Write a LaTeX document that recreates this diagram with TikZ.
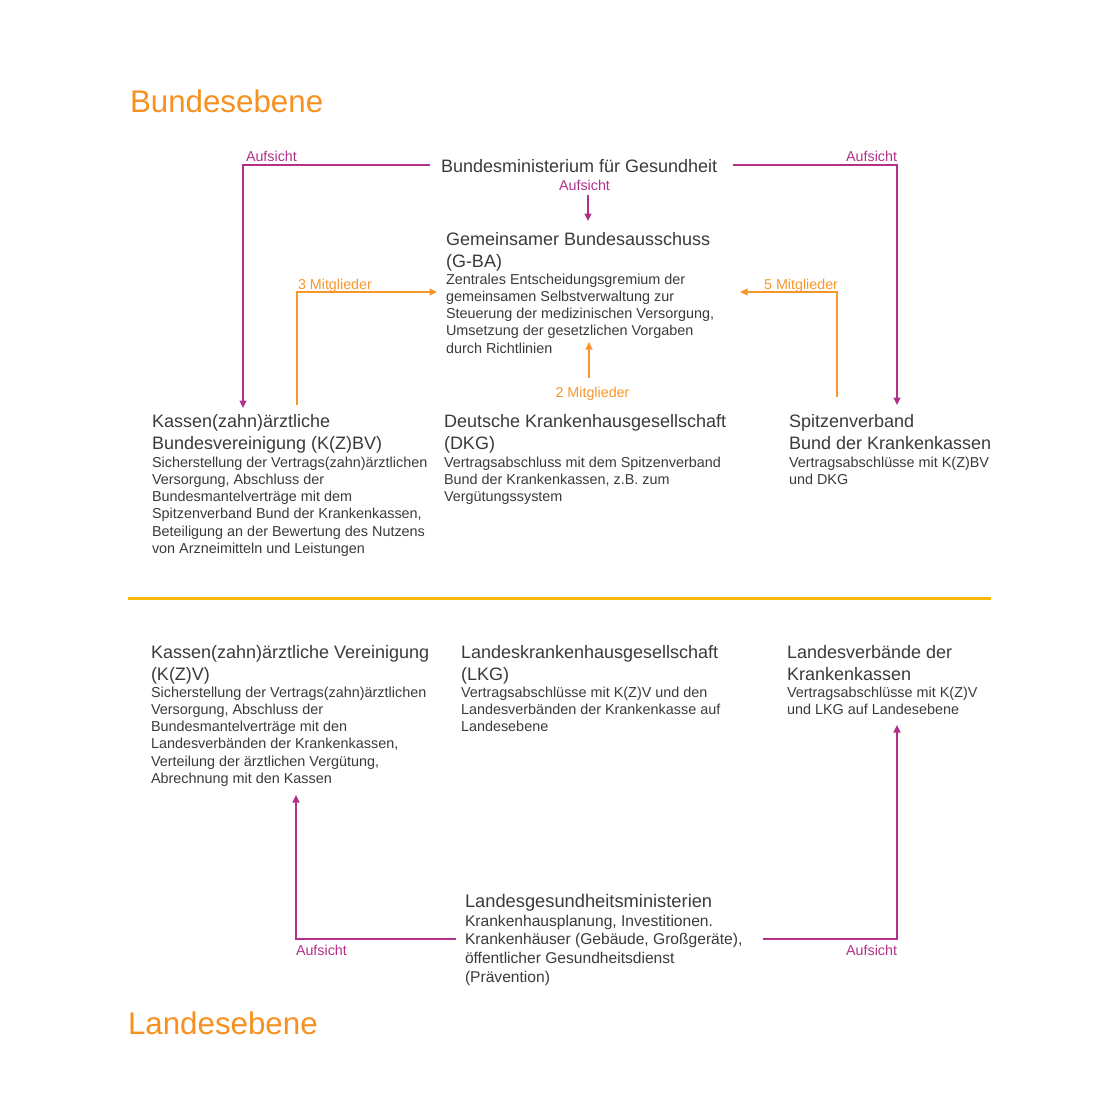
\documentclass[tikz,border=0pt]{standalone}
\usepackage{fontspec}
\setmainfont{Liberation Sans}
\usepackage{xcolor}
\definecolor{textcolor}{HTML}{3A3A3A}
\definecolor{aufcolor}{HTML}{B2308A}
\definecolor{mitcolor}{HTML}{F7962A}
\definecolor{titlecolor}{HTML}{F7901E}
\definecolor{sepcolor}{HTML}{FFB800}
\usetikzlibrary{arrows.meta, positioning, calc}

\begin{document}
\begin{tikzpicture}
        [
          x=1pt, y=-1pt,
          >={Triangle[length=7.5pt,width=7pt]},
          every node/.style={inner sep=0pt, outer sep=0pt, align=left, text=textcolor},
          hd/.style={anchor=base west, font=\fontsize{18}{22}\selectfont},
          bd/.style={anchor=base west, font=\fontsize{14.4}{17.3}\selectfont},
          lbl/.style={font=\fontsize{14.3}{17}\selectfont},
          ebene/.style={anchor=base west, text=titlecolor, font=\fontsize{31.3}{36}\selectfont},
          auf/.style={->, draw=aufcolor, line width=1.3pt},
          mit/.style={->, draw=mitcolor, line width=1.3pt}
        ]
        \useasboundingbox (0,0) rectangle (1110,1109);

        \node[ebene] (bund) at (130,112) {Bundesebene};
        \node[ebene] (land) at (128,1034) {Landesebene};
        \draw[sepcolor, line width=3pt] (128,598) -- (991,598);

        \node[hd] (bmg) at (441,172) {Bundesministerium für Gesundheit};
        \node[hd] (gba) at (446,267) {Gemeinsamer Bundesausschuss\\(G-BA)};
        \node[bd] (gbaTxt) at (446,353.2) {Zentrales Entscheidungsgremium der\\gemeinsamen Selbstverwaltung zur\\Steuerung der medizinischen Versorgung,\\Umsetzung der gesetzlichen Vorgaben\\durch Richtlinien};
        \coordinate (gbaTop) at ([xshift=142pt,yshift=46pt]gba.base west);
        \node[lbl, anchor=base, text=aufcolor] (aufM) at ([xshift=-3.5pt,yshift=31pt]gbaTop) {Aufsicht};

        \node[hd] (kzbv) at (152,449) {Kassen(zahn)ärztliche\\Bundesvereinigung (K(Z)BV)};
        \node[bd] (kzbvTxt) at (152,553.5) {Sicherstellung der Vertrags(zahn)ärztlichen\\Versorgung, Abschluss der\\Bundesmantelverträge mit dem\\Spitzenverband Bund der Krankenkassen,\\Beteiligung an der Bewertung des Nutzens\\von Arzneimitteln und Leistungen};
        \node[hd] (dkg) at (444,449) {Deutsche Krankenhausgesellschaft\\(DKG)};
        \node[bd] (dkgTxt) at (444,501.6) {Vertragsabschluss mit dem Spitzenverband\\Bund der Krankenkassen, z.B. zum\\Vergütungssystem};
        \node[hd] (gkv) at (789,449) {Spitzenverband\\Bund der Krankenkassen};
        \node[bd] (gkvTxt) at (789,484.3) {Vertragsabschlüsse mit K(Z)BV\\und DKG};

        \node[hd] (kzv) at (151,680) {Kassen(zahn)ärztliche Vereinigung\\(K(Z)V)};
        \node[bd] (kzvTxt) at (151,783.5) {Sicherstellung der Vertrags(zahn)ärztlichen\\Versorgung, Abschluss der\\Bundesmantelverträge mit den\\Landesverbänden der Krankenkassen,\\Verteilung der ärztlichen Vergütung,\\Abrechnung mit den Kassen};
        \node[hd] (lkg) at (461,680) {Landeskrankenhausgesellschaft\\(LKG)};
        \node[bd] (lkgTxt) at (461,731.6) {Vertragsabschlüsse mit K(Z)V und den\\Landesverbänden der Krankenkasse auf\\Landesebene};
        \node[hd] (lv) at (787,680) {Landesverbände der\\Krankenkassen};
        \node[bd] (lvTxt) at (787,714.3) {Vertragsabschlüsse mit K(Z)V\\und LKG auf Landesebene};

        \node[hd, font=\fontsize{18.3}{22}\selectfont] (lgm) at (465,907) {Landesgesundheitsministerien};
        \node[bd, font=\fontsize{15.6}{18.9}\selectfont] (lgmTxt) at (465,982.7) {Krankenhausplanung, Investitionen.\\Krankenhäuser (Gebäude, Großgeräte),\\öffentlicher Gesundheitsdienst\\(Prävention)};

        \draw[auf] ([xshift=-11pt,yshift=7pt]bmg.base west) -| ([xshift=91pt,yshift=41pt]kzbv.base west)
          node[pos=0.5, lbl, anchor=south west, xshift=3pt, yshift=3pt, text=aufcolor] {Aufsicht};
        \draw[auf] ([xshift=16pt,yshift=7pt]bmg.base east) -| ([xshift=108pt,yshift=44pt]gkv.base west)
          node[pos=0.5, lbl, anchor=south east, yshift=3pt, text=aufcolor] {Aufsicht};
        \draw[auf] ([yshift=-5pt]aufM.base -| gbaTop) -- (gbaTop);

        \draw[mit] ([xshift=145pt,yshift=44pt]kzbv.base west) |- ([xshift=-9pt,yshift=61.2pt]gbaTxt.base west)
          node[pos=0.5, lbl, anchor=south west, xshift=1pt, text=mitcolor] {3 Mitglieder};
        \draw[mit] ([xshift=48pt,yshift=52pt]gkv.base west) |- ([xshift=294pt,yshift=61.2pt]gbaTxt.base west)
          node[pos=0.5, lbl, anchor=south east, xshift=1pt, text=mitcolor] {5 Mitglieder};
        \draw[mit] ([xshift=145pt,yshift=71pt]dkg.base west) -- ([xshift=145pt,yshift=107pt]dkg.base west)
          node[pos=0, lbl, anchor=north, xshift=3.5pt, yshift=-9pt, text=mitcolor] {2 Mitglieder};

        \draw[auf] ([xshift=-9pt,yshift=43.7pt]lgmTxt.base west) -| ([xshift=145pt,yshift=-11.5pt]kzvTxt.base west)
          node[pos=0.5, lbl, anchor=north west, yshift=-6pt, text=aufcolor] {Aufsicht};
        \draw[auf] ([xshift=298pt,yshift=43.7pt]lgmTxt.base west) -| ([xshift=110pt,yshift=-10.7pt]lvTxt.base west)
          node[pos=0.5, lbl, anchor=north east, yshift=-6pt, text=aufcolor] {Aufsicht};
      \end{tikzpicture}
\end{document}
